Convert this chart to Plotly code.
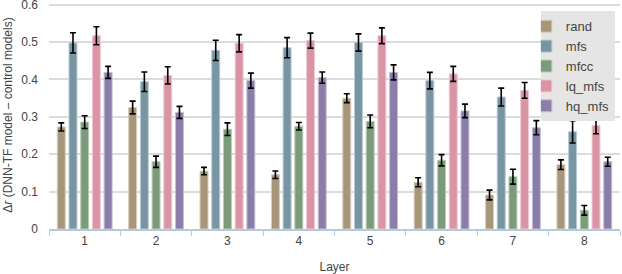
import plotly.graph_objects as go

layers = ["1", "2", "3", "4", "5", "6", "7", "8"]
series = ["rand", "mfs", "mfcc", "lq_mfs", "hq_mfs"]
colors = ["#a8967a", "#7895a3", "#7b9b7b", "#d995a5", "#8a7ea9"]
edge_colors = ["#d8cdb8", "#b8cad4", "#b9cdb9", "#f0c8d2", "#c6bed8"]

rand = [0.273, 0.325, 0.155, 0.145, 0.350, 0.125, 0.091, 0.172]
rand_err = [0.011, 0.017, 0.010, 0.010, 0.012, 0.012, 0.013, 0.013]
mfs = [0.498, 0.394, 0.478, 0.485, 0.499, 0.397, 0.353, 0.260]
mfs_err = [0.027, 0.026, 0.027, 0.027, 0.023, 0.022, 0.024, 0.030]
mfcc = [0.286, 0.180, 0.267, 0.275, 0.288, 0.184, 0.140, 0.050]
mfcc_err = [0.017, 0.015, 0.017, 0.010, 0.017, 0.015, 0.020, 0.013]
lq_mfs = [0.517, 0.411, 0.497, 0.504, 0.517, 0.415, 0.371, 0.277]
lq_err = [0.024, 0.023, 0.023, 0.020, 0.021, 0.020, 0.021, 0.022]
hq_mfs = [0.419, 0.312, 0.397, 0.405, 0.419, 0.316, 0.271, 0.180]
hq_err = [0.016, 0.016, 0.020, 0.015, 0.020, 0.018, 0.019, 0.012]

values = [rand, mfs, mfcc, lq_mfs, hq_mfs]
errors = [rand_err, mfs_err, mfcc_err, lq_err, hq_err]

fig = go.Figure()
for name, v, e, c, ec in zip(series, values, errors, colors, edge_colors):
    fig.add_trace(go.Bar(
        x=layers, y=v, name=name,
        marker=dict(color=c, line=dict(color=ec, width=1)),
        error_y=dict(type="data", array=e, visible=True, color="black",
                     thickness=1.6, width=3),
    ))

fig.update_layout(
    width=622, height=274,
    margin=dict(l=49, r=2, t=1, b=45, autoexpand=False),
    barmode="group", bargap=0.18, bargroupgap=0.32,
    plot_bgcolor="white", paper_bgcolor="white",
    font=dict(family="Liberation Sans, Arial, sans-serif", size=12, color="#444"),
    legend=dict(x=0.991, y=0.955, xanchor="right", yanchor="top",
                bgcolor="#e5e5e5", font=dict(size=13, color="#444"),
                itemwidth=30, indentation=-15, tracegroupgap=0,
                itemclick=False),
    showlegend=True,
)
fig.update_xaxes(
    title=dict(text="Layer", font=dict(size=12, color="#444"), standoff=15),
    automargin=False,
    showline=True, linecolor="#b4c8de", linewidth=1.5,
    ticks="outside", tickson="boundaries", tickcolor="#b4c8de", ticklen=5,
    tickfont=dict(size=12, color="#444"),
    showgrid=False,
)
fig.update_yaxes(
    title=dict(text="Δ<i>r</i> (DNN-TF model – control models)", font=dict(size=12, color="#444"), standoff=6),
    automargin=False,
    range=[0, 0.61], tickvals=[0, 0.1, 0.2, 0.3, 0.4, 0.5, 0.6],
    ticktext=["0", "0.1", "0.2", "0.3", "0.4", "0.5", "0.6"],
    ticklabelstandoff=10, ticklabeloverflow="allow",
    showgrid=True, gridcolor="#dcdcdc", gridwidth=1.5,
    zeroline=False, showline=False,
    tickfont=dict(size=12, color="#444"),
)

fig.write_html("out.html", config={"displayModeBar": False},
               post_script="document.body.style.margin='0px';document.body.style.overflow='hidden';")
